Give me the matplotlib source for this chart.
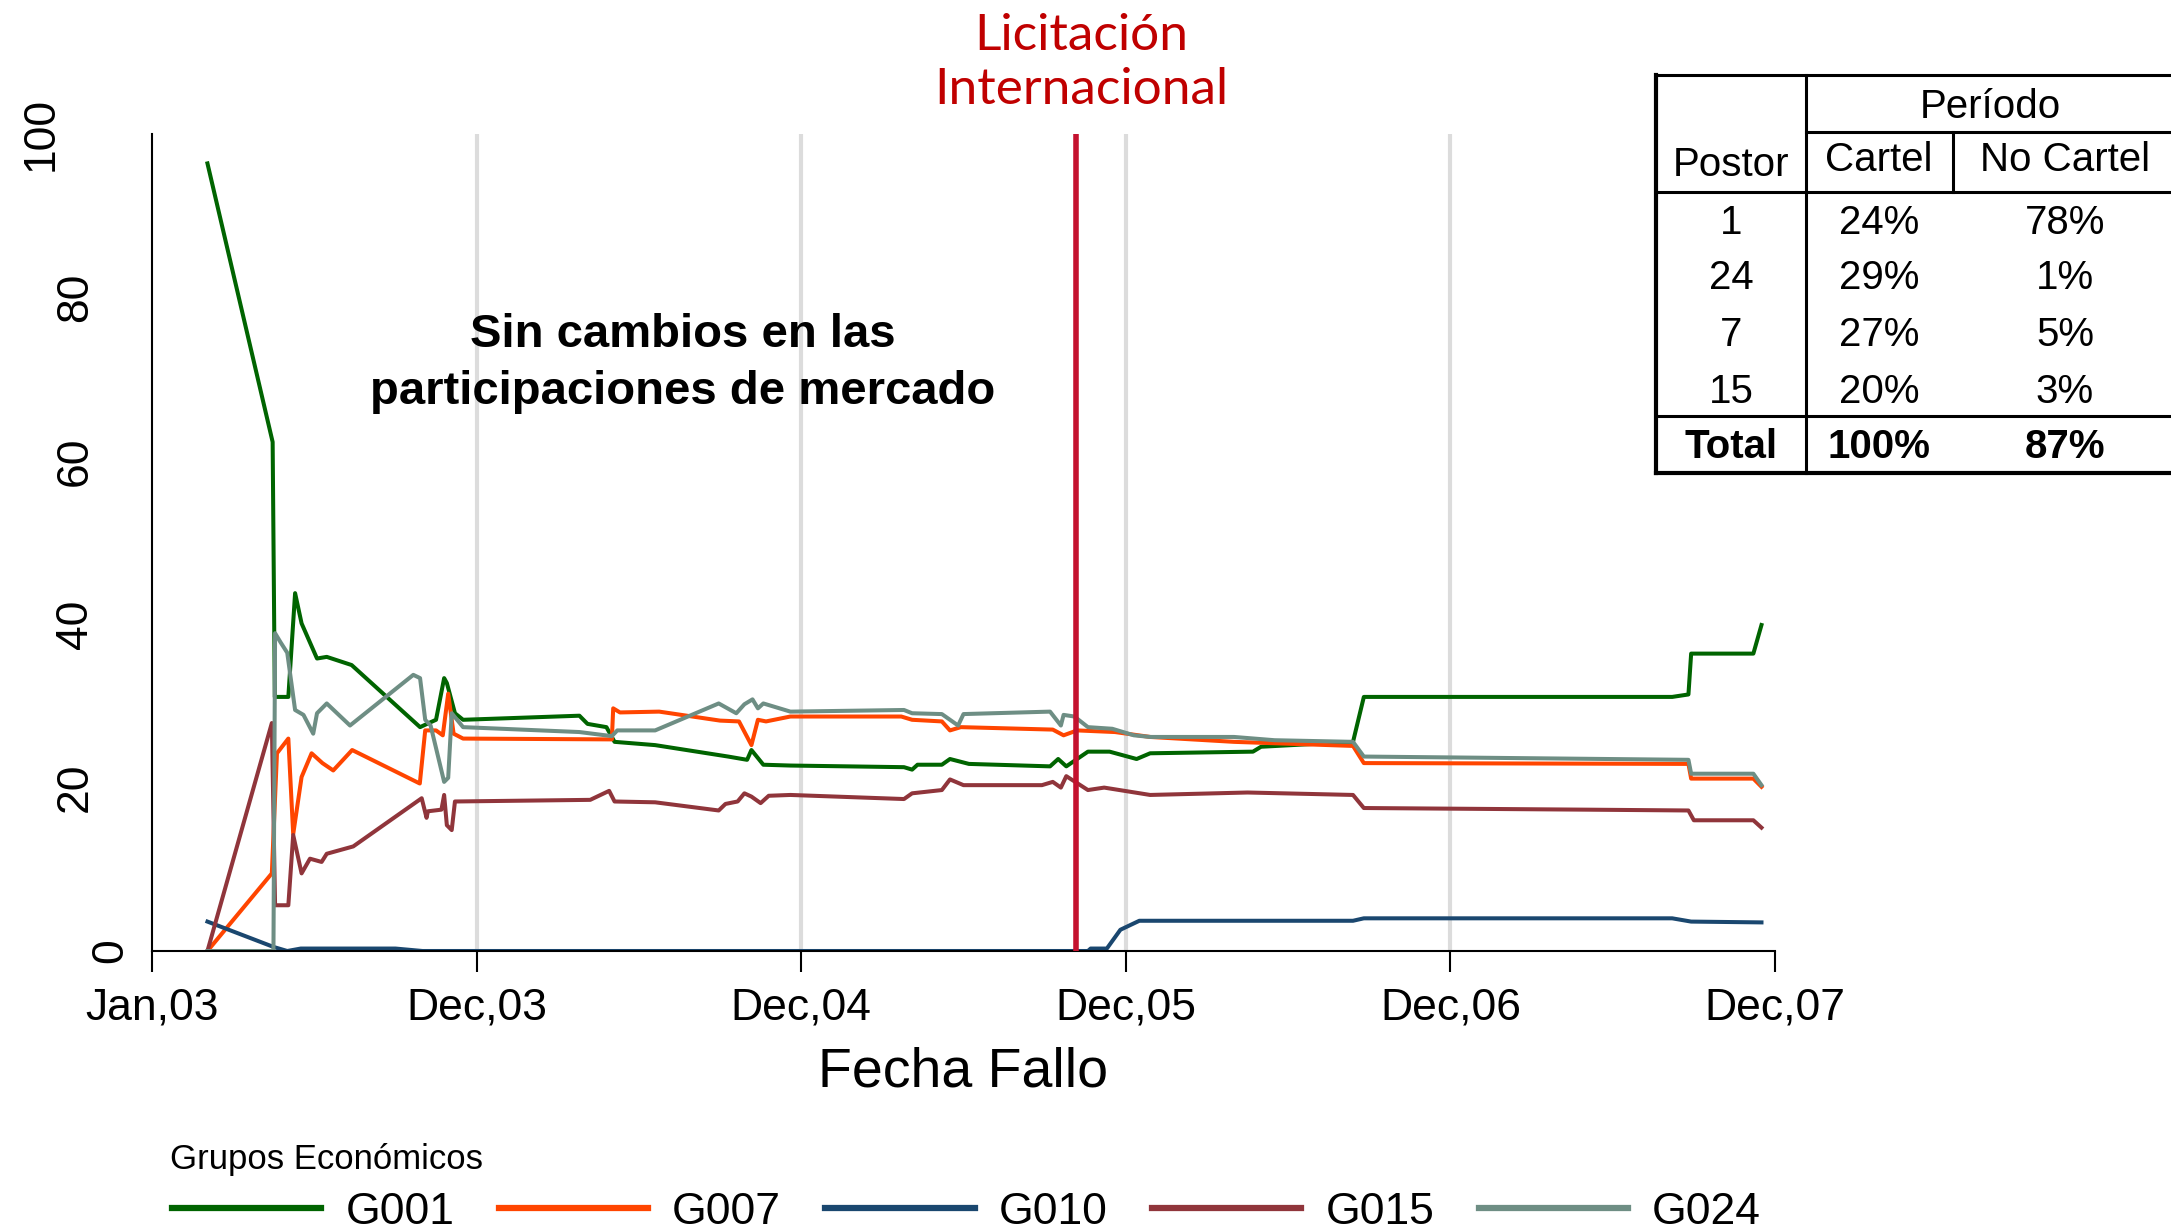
import matplotlib
matplotlib.use("Agg")
import matplotlib.pyplot as plt
import matplotlib.transforms as mtransforms
from matplotlib.lines import Line2D

plt.rcParams['font.family'] = ['Liberation Sans', 'DejaVu Sans']

# x axis: months since Jan 2003
tick_pos = [0, 12, 24, 36, 48, 60]
tick_labels = ['Jan,03', 'Dec,03', 'Dec,04', 'Dec,05', 'Dec,06', 'Dec,07']
y_ticks = [0, 20, 40, 60, 80, 100]
licitacion_x = 34.15

group_names = ['G001', 'G007', 'G010', 'G015', 'G024']
group_colors = ['#006400', '#ff4500', '#1a476f', '#90353b', '#6e8e84']

g001_x = [2.05, 4.46, 4.54, 5.04, 5.29, 5.53, 6.1, 6.46, 7.38, 9.91,
          10.3, 10.5, 10.8, 10.9, 11.2, 11.5, 15.8, 16.1, 16.8, 17.1,
          18.6, 21.3, 22.0, 22.16, 22.6, 23.6, 27.8, 28.1, 28.3, 29.2,
          29.5, 30.2, 33.2, 33.5, 33.8, 34.6, 35.4, 36.4, 36.9, 40.7,
          41.0, 44.4, 44.8, 56.2, 56.8, 56.9, 59.2, 59.5]
g001_y = [96.4, 62.3, 31.1, 31.1, 43.8, 40.1, 35.8, 36.0, 35.0, 27.4,
          28.0, 28.3, 33.4, 32.8, 29.1, 28.3, 28.8, 27.8, 27.4, 25.6,
          25.2, 23.8, 23.4, 24.6, 22.8, 22.7, 22.5, 22.2, 22.8, 22.8,
          23.5, 22.9, 22.6, 23.5, 22.6, 24.4, 24.4, 23.5, 24.2, 24.4,
          25.0, 25.6, 31.1, 31.1, 31.4, 36.4, 36.4, 39.9]

g007_x = [2.05, 4.43, 4.62, 5.04, 5.22, 5.53, 5.9, 6.3, 6.7, 7.4,
          9.9, 10.1, 10.5, 10.75, 10.95, 11.15, 11.5, 17.0, 17.05, 17.3,
          18.75, 21.0, 21.7, 22.16, 22.4, 22.7, 23.6, 27.7, 28.1, 29.2,
          29.5, 29.9, 33.3, 33.7, 34.2, 35.6, 36.9, 40.0, 44.4, 44.8,
          56.8, 56.9, 59.2, 59.5]
g007_y = [0.0, 9.5, 24.2, 26.0, 14.3, 21.3, 24.2, 23.0, 22.1, 24.6,
          20.5, 27.0, 27.0, 26.4, 31.5, 26.6, 26.0, 25.9, 29.7, 29.2,
          29.3, 28.2, 28.1, 25.2, 28.3, 28.1, 28.7, 28.7, 28.3, 28.1,
          27.0, 27.4, 27.1, 26.4, 27.0, 26.8, 26.2, 25.6, 25.1, 23.0,
          22.9, 21.1, 21.1, 20.1]

g010_x = [2.05, 4.49, 5.0, 5.5, 9.0, 10.0, 34.6, 34.7, 35.3, 35.8,
          36.5, 44.4, 44.8, 56.2, 56.9, 59.5]
g010_y = [3.6, 0.5, 0.0, 0.3, 0.3, 0.0, 0.0, 0.3, 0.3, 2.6,
          3.7, 3.7, 4.0, 4.0, 3.6, 3.5]

g015_x = [2.05, 4.43, 4.55, 5.04, 5.22, 5.53, 5.84, 6.27, 6.46, 7.44,
          9.97, 10.15, 10.2, 10.7, 10.8, 10.9, 11.08, 11.2, 16.2, 16.9,
          17.1, 18.6, 20.95, 21.2, 21.65, 21.9, 22.16, 22.5, 22.8, 23.6,
          27.8, 28.1, 29.2, 29.5, 30.0, 32.9, 33.3, 33.6, 33.8, 34.6,
          35.2, 36.9, 40.5, 44.4, 44.8, 53.0, 56.8, 57.0, 59.2, 59.5]
g015_y = [0.0, 27.9, 5.6, 5.6, 14.2, 9.5, 11.3, 10.9, 11.9, 12.8,
          18.7, 16.3, 17.1, 17.3, 19.1, 15.4, 14.8, 18.3, 18.5, 19.6,
          18.3, 18.2, 17.2, 18.0, 18.3, 19.3, 18.9, 18.1, 19.0, 19.1,
          18.6, 19.3, 19.7, 21.0, 20.3, 20.3, 20.7, 20.0, 21.4, 19.7,
          20.0, 19.1, 19.4, 19.1, 17.5, 17.3, 17.2, 16.0, 16.0, 15.1]

g024_x = [2.05, 4.49, 4.55, 4.75, 5.0, 5.29, 5.6, 5.96, 6.1, 6.46,
          7.32, 9.66, 9.91, 10.1, 10.3, 10.8, 10.95, 11.08, 11.5, 15.8,
          17.0, 17.2, 18.6, 20.95, 21.6, 21.9, 22.2, 22.4, 22.6, 23.6,
          27.8, 28.1, 29.2, 29.8, 30.0, 33.2, 33.6, 33.7, 34.1, 34.6,
          35.5, 36.3, 36.9, 40.0, 41.5, 44.4, 44.8, 56.8, 56.9, 59.2,
          59.5]
g024_y = [0.0, 0.0, 38.9, 37.8, 36.5, 29.5, 28.9, 26.6, 29.1, 30.3,
          27.6, 33.8, 33.4, 28.3, 27.6, 20.7, 21.2, 29.1, 27.4, 26.8,
          26.3, 27.0, 27.0, 30.3, 29.1, 30.2, 30.8, 29.7, 30.3, 29.3,
          29.5, 29.1, 29.0, 27.6, 29.0, 29.3, 27.6, 28.9, 28.7, 27.4,
          27.2, 26.4, 26.2, 26.2, 25.8, 25.6, 23.8, 23.4, 21.7, 21.7,
          20.3]

series_x = [g001_x, g007_x, g010_x, g015_x, g024_x]
series_y = [g001_y, g007_y, g010_y, g015_y, g024_y]

# table
table_postor = ['1', '24', '7', '15']
table_cartel = ['24%', '29%', '27%', '20%']
table_nocartel = ['78%', '1%', '5%', '3%']
table_total = ['Total', '100%', '87%']

W, H = 2171, 1229
fig = plt.figure(figsize=(W / 100, H / 100), dpi=100)
ax = fig.add_axes([152 / W, 1 - 951 / H, (1775 - 152) / W, (951 - 134) / H])

# grid lines at the inner ticks
for t in tick_pos[1:-1]:
    ax.axvline(t, color='#dcdcdc', lw=3, zorder=0)

for xs, ys, name, col in zip(series_x, series_y, group_names, group_colors):
    ax.plot(xs, ys, color=col, lw=2.9, label=name, zorder=2)

ax.axvline(licitacion_x, color='#c4122f', lw=4, zorder=3)

ax.set_xlim(tick_pos[0], tick_pos[-1])
ax.set_ylim(0, 100)
for s in ['top', 'right']:
    ax.spines[s].set_visible(False)
for s in ['left', 'bottom']:
    ax.spines[s].set_linewidth(1.5)

ax.set_xticks(tick_pos, tick_labels)
ax.tick_params(axis='x', direction='out', length=15, width=1.5, pad=11, labelsize=32)
ax.set_yticks(y_ticks)
ax.set_yticklabels([])
ax.tick_params(axis='y', length=0)

# y labels, rotated and shifted by label length like the original
for v in y_ticks:
    lab = str(v)
    off = mtransforms.ScaledTranslation(-(15 + 25.2 * (len(lab) - 1)) / 72, 0, fig.dpi_scale_trans)
    ax.text(0, v, lab, transform=ax.get_yaxis_transform() + off, rotation=90,
            ha='right', va='center', fontsize=32)

ax.set_xlabel('Fecha Fallo', fontsize=40, labelpad=13)

ax.text(0.327, 0.719, 'Sin cambios en las\nparticipaciones de mercado', transform=ax.transAxes,
        ha='center', va='center', fontsize=34, fontweight='bold', linespacing=1.36)

fig.text(1081 / W, 1 - 63 / H, 'Licitación\nInternacional', ha='center', va='center',
         fontsize=37, family=['Lato', 'DejaVu Sans'], color='#c00000',
         linespacing=1.2)

# legend (title drawn separately so it sits closer to the keys)
handles = [Line2D([], [], color=c, lw=4.5) for c in group_colors]
fig.legend(handles, group_names, loc='lower left', bbox_to_anchor=(172 / W, -0.003), ncol=5,
           frameon=False, fontsize=32, handlelength=3.36, handletextpad=0.54,
           columnspacing=1.0, borderpad=0, borderaxespad=0)
fig.text(170 / W, 1 - 1160 / H, 'Grupos Económicos', ha='left', va='center', fontsize=25)


# table drawn in pixel coordinates
def px_line(x0, y0, x1, y1, lw=2.2):
    fig.add_artist(Line2D([x0 / W, x1 / W], [1 - y0 / H, 1 - y1 / H], color='black', lw=lw,
                          transform=fig.transFigure))


def px_text(x, y, s, bold=False):
    fig.text(x / W, 1 - y / H, s, ha='center', va='center', fontsize=29,
             fontweight='bold' if bold else 'normal')


px_line(1656, 75, 1656, 473, lw=3)
px_line(1806, 75, 1806, 473)
px_line(1953, 132, 1953, 192)
px_line(1656, 75, W + 5, 75)
px_line(1806, 132, W + 5, 132)
px_line(1656, 192, W + 5, 192)
px_line(1656, 416, W + 5, 416)
px_line(1656, 473, W + 5, 473, lw=3)

px_text(1990, 107, 'Período')
px_text(1731, 165, 'Postor')
px_text(1879, 160, 'Cartel')
px_text(2065, 160, 'No Cartel')
row_y = [223, 278, 335, 392]
for ry, p, c, n in zip(row_y, table_postor, table_cartel, table_nocartel):
    px_text(1731, ry, p)
    px_text(1879, ry, c)
    px_text(2065, ry, n)
for cx, s in zip([1731, 1879, 2065], table_total):
    px_text(cx, 447, s, bold=True)

fig.savefig('out.png', dpi=100)
